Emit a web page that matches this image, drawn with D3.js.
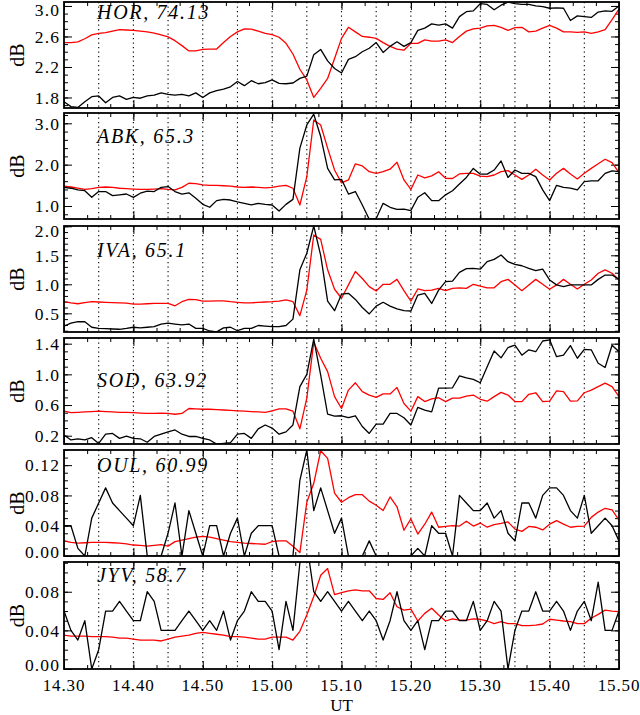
<!DOCTYPE html>
<html><head><meta charset="utf-8">
<script src="https://cdn.jsdelivr.net/npm/d3@7"></script>
<style>body{margin:0;background:#fff}svg{display:block}</style>
</head><body><svg id="c" width="640" height="715"></svg>
<script>
// ---------------- DATA ----------------
const stationLabels = ["HOR, 74.13", "ABK, 65.3", "IVA, 65.1", "SOD, 63.92", "OUL, 60.99", "JYV, 58.7"];
const minutes = d3.range(0, 81); // minutes after 14:30 UT, 1-min cadence
const xTickMinutes = [0, 10, 20, 30, 40, 50, 60, 70, 80];
const xTickLabels = ["14.30", "14.40", "14.50", "15.00", "15.10", "15.20", "15.30", "15.40", "15.50"];
const dottedMinutes = [5, 10, 15, 20, 25, 30, 35, 40, 45, 50, 55, 60, 65, 70, 75];

const horBlack = [1.745,1.68,1.67,1.745,1.81,1.82,1.73,1.80,1.82,1.775,
 1.80,1.79,1.82,1.83,1.86,1.84,1.83,1.84,1.82,1.86,
 1.80,1.86,1.89,1.91,1.94,2.01,1.955,2.02,1.98,1.995,
 2.03,1.985,1.98,1.99,2.05,2.08,2.36,2.43,2.28,2.18,
 2.12,2.30,2.335,2.40,2.445,2.52,2.39,2.47,2.53,2.47,
 2.52,2.68,2.71,2.765,2.75,2.765,2.71,2.86,2.925,2.935,
 3.03,3.02,2.95,3.01,3.05,3.03,3.02,3.02,3.00,2.99,
 2.97,2.975,2.97,2.81,2.87,2.86,2.85,2.92,2.935,2.93,3.00];
const horRed = [2.52,2.52,2.53,2.57,2.62,2.64,2.65,2.67,2.69,2.685,
 2.68,2.67,2.66,2.645,2.62,2.595,2.545,2.48,2.41,2.41,
 2.43,2.435,2.435,2.52,2.60,2.66,2.70,2.695,2.67,2.64,
 2.625,2.59,2.51,2.37,2.17,2.03,1.80,1.92,2.05,2.31,
 2.575,2.72,2.66,2.60,2.59,2.575,2.52,2.47,2.435,2.42,
 2.51,2.51,2.555,2.54,2.54,2.555,2.52,2.60,2.67,2.70,
 2.71,2.74,2.745,2.72,2.68,2.715,2.72,2.66,2.67,2.71,
 2.745,2.71,2.66,2.66,2.655,2.66,2.64,2.66,2.69,2.82,2.96];
const abkBlack = [1.45,1.43,1.39,1.37,1.21,1.35,1.35,1.25,1.27,1.29,
 1.21,1.31,1.36,1.35,1.45,1.47,1.35,1.29,1.32,1.19,
 1.04,0.97,1.13,1.16,1.145,1.10,1.065,1.03,1.065,1.04,
 1.025,0.88,1.04,1.16,2.40,2.96,3.22,2.68,1.91,1.63,
 1.645,1.29,1.35,1.025,0.68,0.70,1.065,0.97,0.92,0.925,
 0.89,1.21,1.32,1.13,1.13,1.27,1.37,1.53,1.69,1.91,
 1.77,1.77,1.87,2.09,1.69,1.87,1.79,1.79,1.71,1.39,
 1.13,1.50,1.45,1.435,1.39,1.59,1.61,1.61,1.79,1.85,1.83];
const abkRed = [1.48,1.46,1.43,1.40,1.42,1.45,1.46,1.45,1.43,1.42,
 1.41,1.40,1.40,1.41,1.42,1.40,1.39,1.45,1.55,1.54,
 1.51,1.50,1.50,1.49,1.48,1.46,1.45,1.46,1.45,1.44,
 1.45,1.48,1.50,1.43,1.025,1.71,3.08,2.96,2.40,1.87,
 1.56,1.63,2.02,1.97,1.83,1.79,1.83,1.89,2.06,1.63,
 1.40,1.75,1.68,1.73,1.83,1.67,1.665,1.775,1.79,1.79,
 1.725,1.71,1.75,1.83,1.855,1.75,1.645,1.75,1.89,1.75,
 1.63,1.79,1.91,1.775,1.655,1.79,1.91,2.02,2.13,2.05,1.81];
const ivaBlack = [0.28,0.33,0.355,0.355,0.26,0.24,0.235,0.23,0.225,0.24,
 0.26,0.25,0.26,0.27,0.315,0.33,0.315,0.30,0.315,0.24,
 0.24,0.195,0.18,0.25,0.26,0.20,0.24,0.24,0.29,0.28,
 0.27,0.27,0.29,0.40,1.25,1.535,2.005,1.50,0.71,0.545,
 0.83,0.845,0.74,0.60,0.49,0.625,0.69,0.625,0.575,0.545,
 0.54,0.815,0.845,0.67,0.90,1.045,1.055,1.205,1.27,1.275,
 1.26,1.39,1.43,1.505,1.39,1.345,1.32,1.275,1.235,1.26,
 1.075,0.99,0.96,0.99,0.99,0.99,0.99,1.085,1.16,1.16,1.085];
const ivaRed = [0.70,0.68,0.665,0.685,0.70,0.695,0.69,0.685,0.68,0.675,
 0.66,0.66,0.665,0.67,0.67,0.67,0.63,0.70,0.74,0.735,
 0.71,0.71,0.715,0.715,0.70,0.69,0.68,0.68,0.69,0.695,
 0.70,0.71,0.73,0.70,0.46,0.90,1.85,1.775,1.25,0.915,
 0.76,0.99,1.22,1.10,0.96,0.885,1.0,1.0,1.085,0.89,
 0.71,0.92,0.89,0.90,0.93,0.89,0.93,0.94,0.93,1.0,
 0.97,0.94,0.94,1.045,1.085,0.99,0.89,0.99,1.085,1.0,
 0.915,0.99,1.085,1.0,0.92,1.0,1.075,1.19,1.25,1.19,1.075];
const sodBlack = [0.21,0.145,0.16,0.145,0.175,0.10,0.22,0.23,0.165,0.195,
 0.165,0.16,0.115,0.19,0.22,0.25,0.275,0.22,0.19,0.19,
 0.165,0.145,0.09,0.10,0.11,0.22,0.23,0.165,0.29,0.34,
 0.30,0.22,0.25,0.34,0.84,1.0,1.46,0.99,0.48,0.455,
 0.46,0.435,0.46,0.32,0.23,0.35,0.35,0.49,0.49,0.435,
 0.34,0.57,0.535,0.51,0.82,0.82,0.825,0.98,0.955,0.935,
 0.89,1.10,1.305,1.215,1.35,1.38,1.25,1.32,1.295,1.435,
 1.45,1.23,1.25,1.375,1.21,1.325,1.32,1.145,1.09,1.38,1.295];
const sodRed = [0.52,0.50,0.505,0.51,0.515,0.52,0.515,0.51,0.505,0.505,
 0.50,0.495,0.49,0.49,0.495,0.49,0.48,0.49,0.555,0.55,
 0.545,0.545,0.54,0.535,0.53,0.525,0.52,0.515,0.51,0.505,
 0.525,0.55,0.55,0.52,0.29,0.69,1.42,1.21,1.035,0.71,
 0.555,0.795,0.89,0.775,0.73,0.70,0.745,0.745,0.83,0.62,
 0.52,0.71,0.645,0.68,0.695,0.645,0.69,0.69,0.715,0.73,
 0.675,0.65,0.71,0.765,0.73,0.645,0.645,0.74,0.76,0.645,
 0.65,0.785,0.775,0.65,0.655,0.76,0.795,0.84,0.885,0.84,0.71];
const oulBlack = [0.04,0.04,0.01,0.00,0.05,0.07,0.09,0.07,0.06,0.05,
 0.04,0.08,0.00,0.00,0.00,0.03,0.07,0.00,0.06,0.03,
 0.00,0.04,0.04,0.00,0.03,0.05,0.00,0.03,0.04,0.04,
 0.04,0.00,0.00,0.00,0.10,0.14,0.06,0.09,0.06,0.03,
 0.05,0.00,0.00,0.00,0.02,0.00,0.00,0.00,0.00,0.00,
 0.00,0.01,0.00,0.04,0.03,0.03,0.00,0.08,0.07,0.06,
 0.06,0.07,0.05,0.06,0.03,0.02,0.07,0.07,0.05,0.08,
 0.09,0.09,0.08,0.06,0.05,0.08,0.03,0.04,0.05,0.04,0.02];
const oulRed = [0.020,0.018,0.017,0.0175,0.018,0.018,0.018,0.0175,0.017,0.016,
 0.0145,0.014,0.013,0.014,0.015,0.013,0.019,0.021,0.023,0.025,
 0.026,0.025,0.023,0.021,0.019,0.018,0.017,0.0165,0.016,0.0155,
 0.019,0.020,0.020,0.013,0.0045,0.071,0.096,0.139,0.129,0.083,
 0.071,0.077,0.081,0.081,0.0725,0.067,0.060,0.078,0.065,0.034,
 0.049,0.029,0.042,0.058,0.038,0.039,0.040,0.0395,0.046,0.0395,
 0.0435,0.038,0.0415,0.043,0.045,0.0355,0.0325,0.039,0.038,0.0345,
 0.042,0.0467,0.042,0.038,0.039,0.0395,0.051,0.058,0.063,0.061,0.0475];
const jyvBlack = [0.06,0.04,0.03,0.05,0.00,0.02,0.06,0.06,0.07,0.06,
 0.05,0.05,0.08,0.07,0.04,0.04,0.04,0.05,0.06,0.05,
 0.04,0.05,0.04,0.06,0.03,0.05,0.06,0.08,0.07,0.07,
 0.06,0.02,0.07,0.04,0.11,0.13,0.08,0.07,0.08,0.07,
 0.06,0.07,0.06,0.05,0.06,0.05,0.03,0.05,0.08,0.05,
 0.04,0.05,0.02,0.05,0.05,0.06,0.06,0.05,0.05,0.07,
 0.04,0.05,0.07,0.06,0.00,0.04,0.06,0.06,0.08,0.06,
 0.06,0.07,0.06,0.04,0.06,0.07,0.05,0.09,0.04,0.04,0.06];
const jyvRed = [0.035,0.034,0.034,0.034,0.0335,0.0335,0.0335,0.033,0.032,0.032,
 0.031,0.030,0.030,0.030,0.029,0.031,0.033,0.034,0.035,0.037,
 0.038,0.037,0.036,0.035,0.0335,0.0335,0.033,0.032,0.031,0.031,
 0.033,0.033,0.033,0.030,0.039,0.056,0.075,0.097,0.104,0.077,
 0.079,0.081,0.082,0.081,0.081,0.073,0.072,0.079,0.0645,0.061,
 0.062,0.0497,0.0576,0.063,0.056,0.0497,0.052,0.0507,0.0507,0.052,
 0.0515,0.0497,0.047,0.049,0.047,0.047,0.0449,0.045,0.0455,0.0466,
 0.0515,0.0507,0.0497,0.049,0.047,0.047,0.0525,0.0566,0.061,0.060,0.0594];

const blackSeries = [horBlack, abkBlack, ivaBlack, sodBlack, oulBlack, jyvBlack];
const redSeries = [horRed, abkRed, ivaRed, sodRed, oulRed, jyvRed];
const yDomains = [[1.662, 3.052], [0.686, 3.249], [0.178, 2.005], [0.092, 1.474], [0, 0.14], [0, 0.1108]];
const yTickValues = [[1.8, 2.2, 2.6, 3.0], [1.0, 2.0, 3.0], [0.5, 1.0, 1.5, 2.0], [0.2, 0.6, 1.0, 1.4], [0.00, 0.04, 0.08, 0.12], [0.00, 0.04, 0.08]];
const yTickFormats = [".1f", ".1f", ".1f", ".1f", ".2f", ".2f"];
const yMinorSteps = [0.1, 0.2, 0.1, 0.1, 0.01, 0.01];

// ---------------- LAYOUT ----------------
const svg = d3.select("#c");
const left = 64, right = 619;
const panelTops = [2, 113, 226, 338, 450, 562];
const panelH = [106, 106, 106, 106, 106, 107];
const labelOffsets = [17, 30, 31, 49, 22, 20];
const serif = "'Liberation Serif', 'DejaVu Serif', serif";

const x = d3.scaleLinear().domain([0, 80]).range([left, right]);
const xMinor = d3.range(0, 80.001, 10 / 3);

stationLabels.forEach((name, i) => {
  const top = panelTops[i], bot = top + panelH[i];
  const y = d3.scaleLinear().domain(yDomains[i]).range([bot, top]);
  const g = svg.append("g");

  const clipId = "clip" + i;
  svg.append("clipPath").attr("id", clipId).append("rect")
    .attr("x", left).attr("y", top).attr("width", right - left).attr("height", bot - top);

  // dotted verticals
  g.selectAll("line.dot").data(dottedMinutes).enter().append("line")
    .attr("x1", d => x(d)).attr("x2", d => x(d)).attr("y1", top).attr("y2", bot)
    .attr("stroke", "#000").attr("stroke-width", 1.1).attr("stroke-dasharray", "1.3,3.2");

  // y axes (left and right, ticks inward)
  const yLeft = d3.axisRight(y).tickValues(yTickValues[i]).tickSize(8).tickFormat("");
  const yRight = d3.axisLeft(y).tickValues(yTickValues[i]).tickSize(8).tickFormat("");
  const minorVals = d3.range(Math.ceil(yDomains[i][0] / yMinorSteps[i] - 1e-6), Math.floor(yDomains[i][1] / yMinorSteps[i] + 1e-6) + 1)
    .map(k => +(k * yMinorSteps[i]).toFixed(4));
  const yLeftMin = d3.axisRight(y).tickValues(minorVals).tickSize(4).tickFormat("");
  const yRightMin = d3.axisLeft(y).tickValues(minorVals).tickSize(4).tickFormat("");
  [[yLeft, left], [yLeftMin, left], [yRight, right], [yRightMin, right]].forEach(([ax, px]) => {
    const a = g.append("g").attr("transform", `translate(${px},0)`).call(ax);
    a.select(".domain").remove();
    a.selectAll("line").attr("stroke", "#000").attr("stroke-width", 1);
  });

  // x axes (top and bottom, ticks inward)
  const xb = d3.axisTop(x).tickValues(xTickMinutes).tickSize(8).tickFormat("");
  const xbm = d3.axisTop(x).tickValues(xMinor).tickSize(4).tickFormat("");
  const xt = d3.axisBottom(x).tickValues(xTickMinutes).tickSize(8).tickFormat("");
  const xtm = d3.axisBottom(x).tickValues(xMinor).tickSize(4).tickFormat("");
  [[xb, bot], [xbm, bot], [xt, top], [xtm, top]].forEach(([ax, py]) => {
    const a = g.append("g").attr("transform", `translate(0,${py})`).call(ax);
    a.select(".domain").remove();
    a.selectAll("line").attr("stroke", "#000").attr("stroke-width", 1);
  });

  // y tick labels (kept inside the panel's vertical span)
  const fmt = d3.format(yTickFormats[i]);
  g.selectAll("text.yl").data(yTickValues[i]).enter().append("text")
    .attr("x", 60).attr("y", d => Math.max(9.5, Math.min(bot - 4, Math.max(top + 5, y(d)))))
    .attr("dy", "0.36em")
    .attr("text-anchor", "end").attr("font-family", serif).attr("font-size", 17.5)
    .attr("letter-spacing", 1.1).text(d => fmt(d));

  // dB label
  g.append("text").attr("transform", `translate(24,${(top + bot) / 2}) rotate(-90)`)
    .attr("text-anchor", "middle").attr("font-family", serif).attr("font-size", 20).text("dB");

  // lines
  const line = d3.line().x((d, j) => x(minutes[j])).y(d => y(d));
  const lg = g.append("g").attr("clip-path", `url(#${clipId})`);
  lg.append("path").datum(redSeries[i]).attr("d", line).attr("fill", "none")
    .attr("stroke", "#ff0000").attr("stroke-width", 1.3).attr("stroke-linejoin", "round");
  lg.append("path").datum(blackSeries[i]).attr("d", line).attr("fill", "none")
    .attr("stroke", "#000").attr("stroke-width", 1.3).attr("stroke-linejoin", "round");

  // frame
  g.append("rect").attr("x", left).attr("y", top).attr("width", right - left).attr("height", bot - top)
    .attr("fill", "none").attr("stroke", "#000").attr("stroke-width", 1.8);

  // station label
  g.append("text").attr("x", 97).attr("y", top + labelOffsets[i])
    .attr("font-family", serif).attr("font-style", "italic").attr("font-size", 20)
    .attr("letter-spacing", 1.7).text(name);

  // x tick labels on last panel
  if (i === stationLabels.length - 1) {
    g.selectAll("text.xl").data(xTickMinutes).enter().append("text")
      .attr("x", d => x(d)).attr("y", 691).attr("text-anchor", "middle")
      .attr("font-family", serif).attr("font-size", 17).attr("letter-spacing", 0.9)
      .text((d, j) => xTickLabels[j]);
    g.append("text").attr("x", (left + right) / 2).attr("y", 711).attr("text-anchor", "middle")
      .attr("font-family", serif).attr("font-size", 17).text("UT");
  }
});
</script></body></html>
